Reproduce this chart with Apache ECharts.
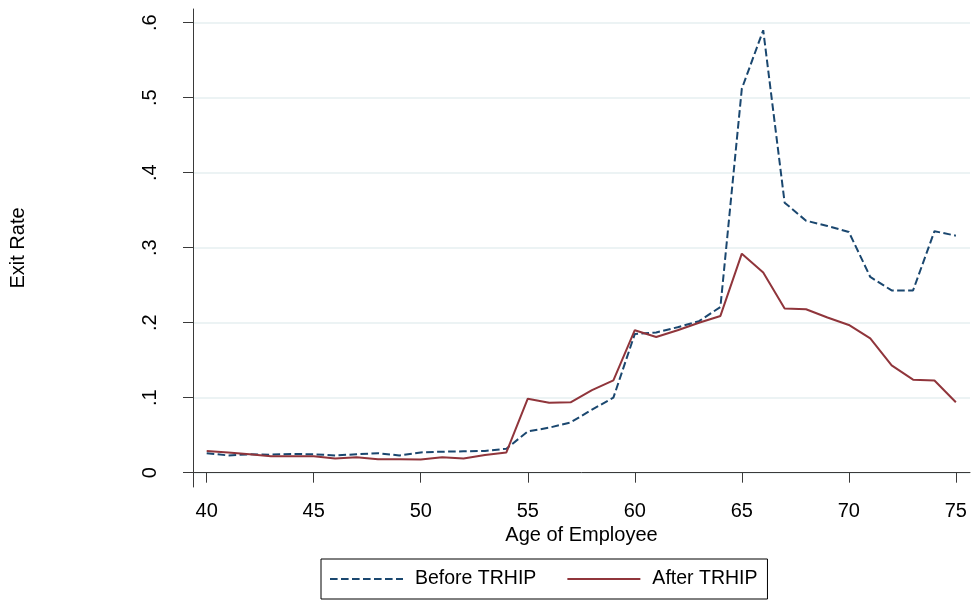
<!DOCTYPE html>
<html>
<head>
<meta charset="utf-8">
<title>Exit Rate by Age of Employee</title>
<script src="https://cdn.jsdelivr.net/npm/echarts@6/dist/echarts.min.js"></script>
<style>
  html, body { margin: 0; padding: 0; background: #ffffff; }
  #chart { width: 973px; height: 602px; }
</style>
</head>
<body>
<div id="chart"></div>
<script>
// Ages on the horizontal axis
const ages = [40, 41, 42, 43, 44, 45, 46, 47, 48, 49, 50, 51, 52, 53, 54, 55, 56, 57,
              58, 59, 60, 61, 62, 63, 64, 65, 66, 67, 68, 69, 70, 71, 72, 73, 74, 75];

// Exit rate before TRHIP
const beforeTRHIP = [0.026, 0.023, 0.0245, 0.024, 0.025, 0.0245, 0.023, 0.0245, 0.026, 0.023,
                     0.027, 0.028, 0.0285, 0.029, 0.032, 0.055, 0.060, 0.067, 0.084, 0.100,
                     0.185, 0.187, 0.194, 0.202, 0.221, 0.512, 0.590, 0.360, 0.336, 0.329,
                     0.321, 0.261, 0.243, 0.243, 0.322, 0.316];

// Exit rate after TRHIP
const afterTRHIP = [0.029, 0.027, 0.0245, 0.022, 0.022, 0.022, 0.019, 0.0205, 0.018, 0.018,
                    0.0175, 0.0205, 0.019, 0.0236, 0.027, 0.0987, 0.0933, 0.0938, 0.110, 0.123,
                    0.190, 0.181, 0.190, 0.200, 0.209, 0.292, 0.267, 0.219, 0.218, 0.207,
                    0.197, 0.179, 0.143, 0.124, 0.123, 0.094];

// Tick labels
const xTicks = [40, 45, 50, 55, 60, 65, 70, 75];
const yTicks = [0, 0.1, 0.2, 0.3, 0.4, 0.5, 0.6];

const toPairs = (xs, ys) => xs.map((x, i) => [x, ys[i]]);

const FONT = '"Liberation Sans", Arial, sans-serif';
const AXIS_COLOR = '#3a3a3a';

const chart = echarts.init(document.getElementById('chart'), null, { renderer: 'canvas' });

chart.setOption({
  animation: false,
  backgroundColor: '#ffffff',
  textStyle: { fontFamily: FONT },
  grid: { left: 193, right: 3, top: 9, bottom: 115, containLabel: false },
  xAxis: {
    type: 'value',
    min: 39.36,
    max: 75.66,
    name: 'Age of Employee',
    nameLocation: 'middle',
    nameGap: 38,
    nameTextStyle: { fontFamily: FONT, fontSize: 20, color: '#000' },
    axisLine: { show: true, lineStyle: { color: AXIS_COLOR, width: 1 } },
    axisTick: { show: true, length: 10, lineStyle: { color: AXIS_COLOR, width: 1 }, customValues: xTicks },
    axisLabel: { show: true, margin: 14, fontFamily: FONT, fontSize: 20, color: '#000', customValues: xTicks },
    splitLine: { show: false }
  },
  yAxis: {
    type: 'value',
    min: -0.0191,
    max: 0.6183,
    name: 'Exit Rate',
    nameLocation: 'middle',
    nameGap: 165,
    nameTextStyle: { fontFamily: FONT, fontSize: 20, color: '#000' },
    axisLine: { show: true, lineStyle: { color: AXIS_COLOR, width: 1 } },
    axisTick: { show: true, length: 10, lineStyle: { color: AXIS_COLOR, width: 1 }, customValues: yTicks },
    axisLabel: {
      show: true, margin: 33, rotate: 90, fontFamily: FONT, fontSize: 20, color: '#000',
      customValues: yTicks,
      formatter: v => (Math.abs(v) < 1e-9 ? '0' : v.toFixed(1).replace(/^0/, ''))
    },
    splitLine: { show: true, lineStyle: { color: '#e6eff1', width: 1.5 } }
  },
  legend: {
    left: 321,
    top: 559,
    orient: 'horizontal',
    itemWidth: 73,
    itemHeight: 14,
    itemGap: 30,
    padding: [10, 10, 10, 8],
    borderColor: '#000',
    borderWidth: 1,
    itemStyle: { opacity: 0 },
    textStyle: { fontFamily: FONT, fontSize: 19.5, color: '#000', padding: [0, 0, 0, 7] },
    data: ['Before TRHIP', 'After TRHIP']
  },
  series: [
    {
      name: 'Before TRHIP',
      type: 'line',
      data: toPairs(ages, beforeTRHIP),
      symbol: 'none',
      showSymbol: false,
      lineStyle: { color: '#1a476f', width: 2, type: [7.6, 3.4] },
      itemStyle: { color: '#1a476f' }
    },
    {
      name: 'After TRHIP',
      type: 'line',
      data: toPairs(ages, afterTRHIP),
      symbol: 'none',
      showSymbol: false,
      lineStyle: { color: '#90353b', width: 2, type: 'solid' },
      itemStyle: { color: '#90353b' }
    }
  ]
});
</script>
</body>
</html>
